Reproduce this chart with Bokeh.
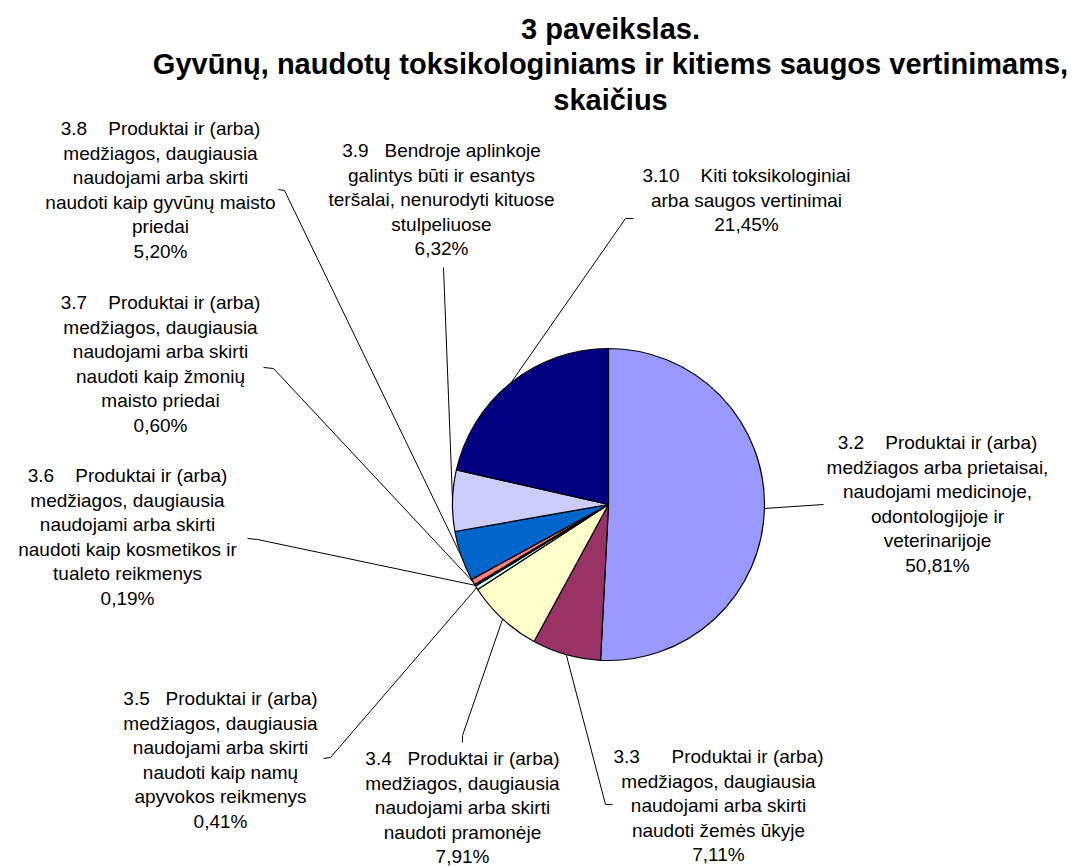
import math
from bokeh.plotting import figure
from bokeh.models import Range1d, ColumnDataSource
from bokeh.core.properties import value
from bokeh.embed import file_html
from bokeh.resources import INLINE

NB = "\u00a0"

# ---- data ----
codes = ["3.2", "3.3", "3.4", "3.5", "3.6", "3.7", "3.8", "3.9", "3.10"]
names = [
    "Produktai ir (arba)\nmedžiagos arba prietaisai,\nnaudojami medicinoje,\nodontologijoje ir\nveterinarijoje",
    "Produktai ir (arba)\nmedžiagos, daugiausia\nnaudojami arba skirti\nnaudoti žemės ūkyje",
    "Produktai ir (arba)\nmedžiagos, daugiausia\nnaudojami arba skirti\nnaudoti pramonėje",
    "Produktai ir (arba)\nmedžiagos, daugiausia\nnaudojami arba skirti\nnaudoti kaip namų\napyvokos reikmenys",
    "Produktai ir (arba)\nmedžiagos, daugiausia\nnaudojami arba skirti\nnaudoti kaip kosmetikos ir\ntualeto reikmenys",
    "Produktai ir (arba)\nmedžiagos, daugiausia\nnaudojami arba skirti\nnaudoti kaip žmonių\nmaisto priedai",
    "Produktai ir (arba)\nmedžiagos, daugiausia\nnaudojami arba skirti\nnaudoti kaip gyvūnų maisto\npriedai",
    "Bendroje aplinkoje\ngalintys būti ir esantys\nteršalai, nenurodyti kituose\nstulpeliuose",
    "Kiti toksikologiniai\narba saugos vertinimai",
]
percents = [50.81, 7.11, 7.91, 0.41, 0.19, 0.60, 5.20, 6.32, 21.45]
colors = ["#9999FF", "#993366", "#FFFFCC", "#CCFFFF", "#660066",
          "#FF8080", "#0066CC", "#CCCCFF", "#000080"]
title_lines = ["3 paveikslas.",
               "Gyvūnų, naudotų toksikologiniams ir kitiems saugos vertinimams,",
               "skaičius"]

# ---- layout (image pixel coords) ----
IMG_W, IMG_H = 1077, 866
CX, CY, R = 608, 504, 156
gap_spaces = [4, 6, 3, 3, 4, 4, 4, 3, 4]
label_cx = [937, 718, 462, 220, 127, 160, 160, 441, 746]
label_y0 = [442, 756, 758, 698, 475, 302, 128, 150, 175]
line_step = 24.6
# leader line anchor points near labels (polyline after slice edge)
anchors = [
    [(823, 504)],
    [(605, 804), (612, 804)],
    [(462, 735), (462, 742)],
    [(330, 757), (323, 758)],
    [(257, 539), (247, 538)],
    [(273, 368), (263, 367)],
    [(284, 190), (278, 189)],
    [(443, 267)],
    [(625, 218), (633, 218)],
]


def Y(yimg):
    return IMG_H - yimg


p = figure(width=IMG_W, height=IMG_H, output_backend="svg", toolbar_location=None,
           x_range=Range1d(0, IMG_W), y_range=Range1d(0, IMG_H),
           x_axis_type=None, y_axis_type=None, min_border=0)
p.outline_line_color = None
p.grid.visible = False
p.background_fill_color = "white"

total = sum(percents)
starts, ends, mids = [], [], []
cum = 0.0
for v in percents:
    a0 = cum / total
    cum += v
    a1 = cum / total
    starts.append(math.pi / 2 - 2 * math.pi * a1)
    ends.append(math.pi / 2 - 2 * math.pi * a0)
    mids.append(2 * math.pi * (a0 + a1) / 2)

src = ColumnDataSource(dict(x=[CX] * len(percents), y=[Y(CY)] * len(percents),
                            start=starts, end=ends, color=colors))
p.wedge(x="x", y="y", radius=R, radius_units="screen", start_angle="start",
        end_angle="end", fill_color="color", line_color="black", line_width=1.2,
        source=src)

# leader lines
xs, ys = [], []
for m, anc in zip(mids, anchors):
    px = CX + R * math.sin(m)
    py = CY - R * math.cos(m)
    pts = [(px, py)] + anc
    xs.append([q[0] for q in pts])
    ys.append([Y(q[1]) for q in pts])
p.multi_line(xs=xs, ys=ys, line_color="black", line_width=1)

# labels
tx, ty, tt = [], [], []
for code, name, pct, gs, lx, ly in zip(codes, names, percents, gap_spaces, label_cx, label_y0):
    lines = name.split("\n")
    lines[0] = code + NB * gs + lines[0]
    lines.append(f"{pct:.2f}".replace(".", ",") + "%")
    for i, ln in enumerate(lines):
        tx.append(lx)
        ty.append(Y(ly + i * line_step))
        tt.append(ln)
p.text(x=tx, y=ty, text=tt, text_font=value("Liberation Sans"),
       text_font_size="19px", text_align="center", text_baseline="middle",
       text_color="black")

# title
title_y = [28, 63, 99]
p.text(x=[610] * 3, y=[Y(v) for v in title_y], text=title_lines,
       text_font=value("Liberation Sans"), text_font_size="29px",
       text_font_style="bold", text_align="center", text_baseline="middle",
       text_color="black")

open("out.html", "w").write(file_html(p, INLINE))
